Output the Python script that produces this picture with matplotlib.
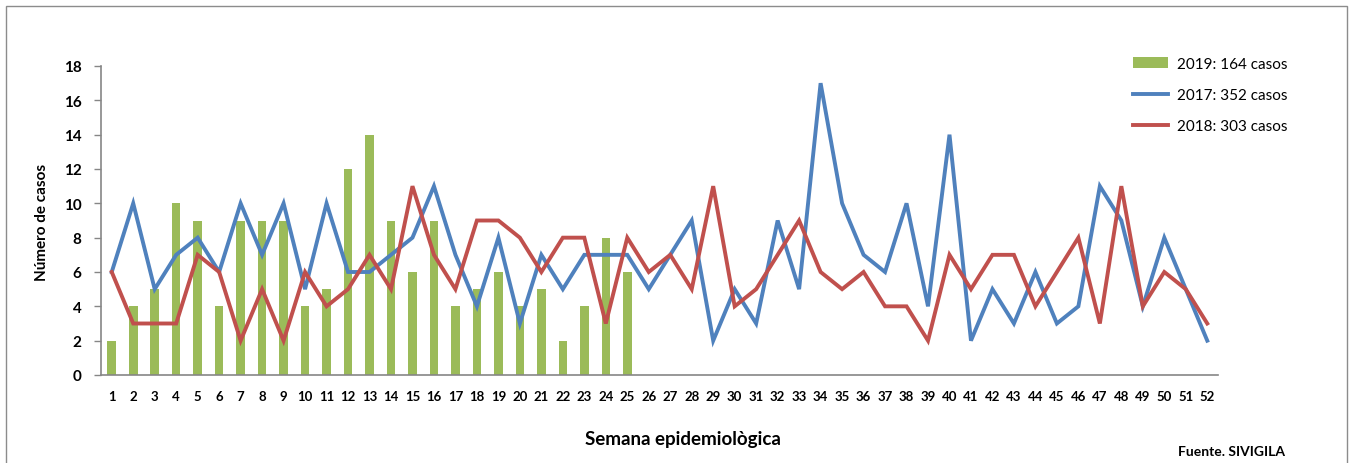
import matplotlib
matplotlib.use("Agg")
import matplotlib.pyplot as plt
from matplotlib.patches import Rectangle
import numpy as np

plt.rcParams['font.family'] = ['Lato', 'DejaVu Sans']

weeks = list(range(1, 53))
cases_2019 = [2, 4, 5, 10, 9, 4, 9, 9, 9, 4, 5, 12, 14, 9, 6, 9, 4, 5, 6, 4, 5, 2, 4, 8, 6]
cases_2017 = [6, 10, 5, 7, 8, 6, 10, 7, 10, 5, 10, 6, 6, 7, 8, 11, 7, 4, 8, 3, 7, 5, 7, 7, 7, 5,
              7, 9, 2, 5, 3, 9, 5, 17, 10, 7, 6, 10, 4, 14, 2, 5, 3, 6, 3, 4, 11, 9, 4, 8, 5, 2]
cases_2018 = [6, 3, 3, 3, 7, 6, 2, 5, 2, 6, 4, 5, 7, 5, 11, 7, 5, 9, 9, 8, 6, 8, 8, 3, 8, 6,
              7, 5, 11, 4, 5, 7, 9, 6, 5, 6, 4, 4, 2, 7, 5, 7, 7, 4, 6, 8, 3, 11, 4, 6, 5, 3]
label_2019 = "2019: 164 casos"
label_2017 = "2017: 352 casos"
label_2018 = "2018: 303 casos"
y_ticks = list(range(0, 19, 2))

W, H = 1353, 464
fig = plt.figure(figsize=(W / 100, H / 100), dpi=100)
fig.patch.set_facecolor('white')

# outer frame
fig.patches.append(Rectangle((6 / W, -0.05), (1347 - 6) / W, 1 - 7 / H + 0.05,
                             transform=fig.transFigure, fill=False,
                             edgecolor='#8c8c8c', linewidth=1.0))

ax = fig.add_axes([101 / W, 1 - 376 / H, (1218 - 101) / W, (376 - 67) / H])

green = '#9BBB59'
blue = '#4F81BD'
red = '#C0504D'

b = ax.bar(weeks[:len(cases_2019)], cases_2019, width=0.4, color=green, label=label_2019, zorder=2)
l1, = ax.plot(weeks, cases_2017, color=blue, linewidth=2.8, label=label_2017, zorder=3,
              solid_joinstyle='miter')
l2, = ax.plot(weeks, cases_2018, color=red, linewidth=2.8, label=label_2018, zorder=4,
              solid_joinstyle='miter')

ax.set_xlim(0.5, 52.5)
ax.set_ylim(0, 18)
ax.set_yticks(y_ticks)
ax.set_xticks(weeks)
ax.set_xticklabels([str(w) for w in weeks], fontsize=9.5, fontweight='bold')
ax.set_yticklabels([str(t) for t in y_ticks], fontsize=11, fontweight='bold')
ax.tick_params(axis='x', length=0, pad=11)
ax.tick_params(axis='y', length=5, width=1, color='#868686', pad=9, direction='out')

for s in ['top', 'right']:
    ax.spines[s].set_visible(False)
for s in ['left', 'bottom']:
    ax.spines[s].set_color('#868686')
    ax.spines[s].set_linewidth(1.2)

fig.text(42 / W, 1 - 222 / H, "Número de casos", rotation=90, ha='center', va='center',
         fontsize=11, fontweight='bold')
fig.text(683 / W, 1 - 440 / H, "Semana epidemiològica", ha='center', va='center',
         fontsize=13.5, fontweight='bold')
fig.text(1178 / W, 1 - 452 / H, "Fuente. SIVIGILA", ha='left', va='center',
         fontsize=10, fontweight='bold')

leg = ax.legend([b, l1, l2], [label_2019, label_2017, label_2018],
                loc='upper left', bbox_to_anchor=(1133 / W, 1 - 58 / H),
                bbox_transform=fig.transFigure, frameon=False, fontsize=11,
                handlelength=2.3, handletextpad=0.55, labelspacing=1.12,
                borderpad=0, borderaxespad=0)

fig.savefig("out.png", dpi=100)
